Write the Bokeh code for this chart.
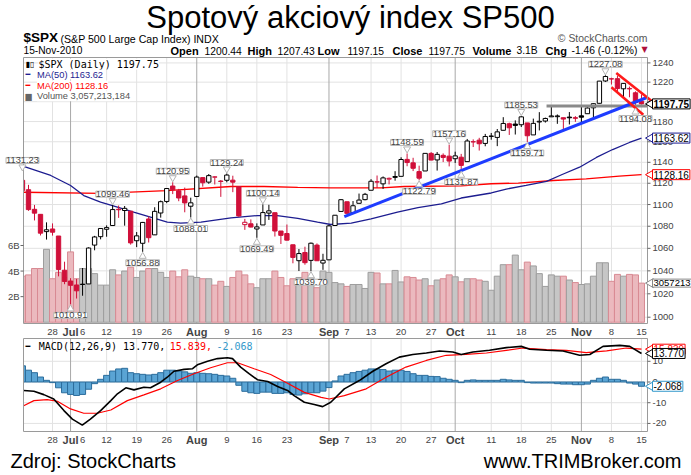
import math
from bokeh.plotting import figure
from bokeh.models import Range1d, ColumnDataSource, Label, LabelSet, LinearScale, LogScale
from bokeh.embed import file_html
from bokeh.resources import INLINE
from bokeh.core.properties import value

# ---------------- data (trading days 21-Jun-2010 .. 15-Nov-2010) ----------------
opens = [1122.79, 1113.90, 1095.57, 1090.93, 1075.10, 1077.50, 1071.10, 1040.56, 1031.10, 1027.65,
         1028.09, 1028.54, 1062.92, 1070.50, 1077.23, 1080.65, 1095.61, 1094.46, 1093.85, 1066.85,
         1064.53, 1086.67, 1072.14, 1092.17, 1102.89, 1117.36, 1112.84, 1108.07, 1098.44, 1107.53,
         1125.34, 1121.06, 1125.78, 1122.07, 1122.80, 1122.92, 1116.89, 1081.48, 1082.22, 1077.49,
         1081.16, 1092.08, 1092.44, 1075.63, 1073.36, 1063.20, 1048.98, 1056.28, 1049.27, 1062.90,
         1046.88, 1049.72, 1080.66, 1093.61, 1102.60, 1092.36, 1101.15, 1104.57, 1113.38, 1121.16,
         1119.43, 1123.89, 1126.39, 1126.57, 1142.82, 1139.49, 1131.10, 1131.69, 1148.64, 1142.31,
         1146.75, 1145.97, 1143.49, 1144.96, 1140.68, 1159.81, 1161.57, 1158.36, 1165.32, 1164.28,
         1171.32, 1177.82, 1177.47, 1176.83, 1178.64, 1166.74, 1179.56, 1180.52, 1184.74, 1184.88,
         1183.84, 1184.47, 1183.87, 1185.71, 1187.86, 1193.79, 1198.34, 1221.20, 1223.24, 1223.59,
         1213.14, 1213.04, 1209.07, 1200.44]
highs = [1131.23, 1118.50, 1099.64, 1090.93, 1083.56, 1082.60, 1071.10, 1048.08, 1033.58, 1032.95,
         1042.50, 1060.89, 1071.25, 1078.16, 1080.78, 1099.46, 1099.08, 1098.66, 1093.85, 1074.70,
         1083.94, 1088.96, 1097.50, 1103.73, 1115.01, 1120.95, 1114.66, 1115.90, 1106.44, 1127.30,
         1125.44, 1128.75, 1126.56, 1123.06, 1129.24, 1127.16, 1116.89, 1086.72, 1086.25, 1082.62,
         1100.14, 1099.77, 1092.44, 1075.63, 1081.58, 1063.20, 1059.38, 1061.45, 1065.21, 1064.40,
         1055.14, 1081.30, 1090.10, 1105.10, 1102.60, 1103.26, 1110.27, 1110.88, 1123.87, 1127.36,
         1126.46, 1125.44, 1131.47, 1144.86, 1148.59, 1144.38, 1136.77, 1148.90, 1149.92, 1150.00,
         1148.63, 1157.16, 1150.30, 1148.16, 1162.76, 1162.33, 1163.87, 1167.73, 1168.68, 1172.58,
         1184.38, 1178.89, 1181.20, 1185.53, 1178.64, 1182.94, 1189.43, 1183.93, 1196.14, 1187.11,
         1183.84, 1189.53, 1185.46, 1195.81, 1195.88, 1198.30, 1221.25, 1227.08, 1224.57, 1226.84,
         1218.75, 1215.45, 1210.50, 1207.43]
lows = [1108.24, 1094.18, 1085.31, 1071.60, 1067.89, 1071.45, 1035.18, 1028.33, 1010.91, 1015.93,
        1018.35, 1028.54, 1058.24, 1068.10, 1070.45, 1080.65, 1087.68, 1080.53, 1063.32, 1061.11,
        1056.88, 1065.25, 1072.14, 1087.88, 1101.30, 1109.78, 1103.11, 1092.82, 1088.01, 1107.53,
        1116.76, 1119.46, 1118.81, 1107.17, 1120.91, 1111.58, 1088.55, 1076.69, 1079.00, 1069.49,
        1081.16, 1085.76, 1070.66, 1063.91, 1067.08, 1046.68, 1039.83, 1045.40, 1039.70, 1048.79,
        1040.88, 1049.72, 1080.39, 1093.61, 1091.15, 1092.36, 1101.15, 1103.92, 1113.38, 1115.58,
        1114.63, 1118.88, 1122.43, 1126.57, 1136.22, 1131.58, 1122.79, 1131.69, 1142.00, 1132.09,
        1140.26, 1136.08, 1139.42, 1131.87, 1140.68, 1154.85, 1151.41, 1155.58, 1162.02, 1155.71,
        1171.32, 1166.71, 1167.12, 1174.55, 1159.71, 1166.74, 1171.17, 1178.99, 1184.74, 1177.72,
        1171.70, 1177.10, 1179.70, 1177.65, 1187.86, 1183.56, 1198.34, 1220.29, 1217.55, 1208.94,
        1204.33, 1204.49, 1194.08, 1197.15]
closes = [1113.20, 1095.31, 1092.04, 1073.69, 1076.76, 1074.57, 1041.24, 1030.71, 1027.37, 1022.58,
          1028.06, 1060.27, 1070.25, 1077.96, 1078.75, 1095.34, 1095.17, 1096.48, 1064.88, 1071.25,
          1083.48, 1069.59, 1093.67, 1102.66, 1115.01, 1113.84, 1106.13, 1101.53, 1101.60, 1125.86,
          1120.46, 1127.24, 1125.81, 1121.64, 1127.79, 1121.06, 1089.47, 1083.61, 1079.25, 1079.38,
          1092.54, 1094.16, 1075.63, 1071.69, 1067.36, 1051.87, 1055.33, 1047.22, 1064.59, 1048.92,
          1049.33, 1080.29, 1090.10, 1104.51, 1091.84, 1098.87, 1104.18, 1109.55, 1121.90, 1121.10,
          1125.07, 1124.66, 1125.59, 1142.71, 1139.78, 1134.28, 1124.83, 1148.67, 1142.16, 1147.70,
          1144.73, 1141.20, 1146.24, 1137.03, 1160.75, 1159.97, 1158.06, 1165.15, 1165.32, 1169.77,
          1178.10, 1173.81, 1176.19, 1184.71, 1165.90, 1178.17, 1180.26, 1183.08, 1185.62, 1185.64,
          1182.45, 1183.78, 1183.26, 1184.38, 1193.57, 1197.96, 1221.06, 1225.85, 1223.25, 1213.40,
          1218.71, 1213.54, 1199.21, 1197.75]
prev_close0 = 1117.51

volume_b = [3.6, 3.7, 4.2, 4.2, 5.7, 3.4, 3.9, 3.5, 5.5, 3.4,
            4.2, 4.2, 3.8, 2.9, 2.9, 4.1, 3.7, 4.0, 4.3, 3.5,
            4.0, 4.2, 4.2, 3.9, 3.5, 4.0, 3.55, 4.1, 3.6, 3.5,
            3.4, 3.4, 2.9, 3.2, 2.8, 3.5, 4.0, 3.7, 3.0, 2.7,
            3.4, 3.4, 4.0, 3.5, 2.85, 3.4, 3.5, 3.9, 3.5, 2.7,
            4.0, 3.9, 3.1, 3.0, 2.8, 2.95, 2.95, 2.64, 3.9, 3.85,
            3.0, 3.0, 4.05, 3.15, 3.55, 3.5, 3.3, 3.4, 2.85, 3.3,
            3.4, 3.7, 3.55, 3.16, 3.4, 3.4, 3.3, 3.2, 2.5, 3.6,
            4.5, 4.5, 5.25, 4.1, 4.7, 4.4, 3.8, 2.8, 3.7, 3.6,
            3.6, 3.3, 3.1, 2.95, 3.0, 3.6, 4.65, 4.65, 3.2, 3.74,
            3.6, 3.74, 3.7, 3.057]
volume_last = 3057213184

ma50_x = [0.2, 4.7, 8, 10.2, 13, 15.8, 18.5, 21.3, 24.1, 26.3, 29.7, 34.7, 39.1, 42.4, 45.8, 49.1,
          51.3, 54.7, 58, 62.4, 65.8, 69.7, 73, 78, 80.5, 83.8, 87.2, 89.8, 92.7, 95.5, 98.2, 101, 103]
ma50_y = [1136.0, 1127.4, 1117.9, 1108.4, 1102.2, 1097.5, 1092.9, 1088.3, 1083.7, 1082.8, 1083.7,
          1087.7, 1089.8, 1089.8, 1087.3, 1083.7, 1081.6, 1082.8, 1086.8, 1092.9, 1097.2, 1100.7,
          1106.1, 1110.8, 1114.5, 1117.9, 1121.7, 1128.3, 1135.3, 1144.7, 1152.4, 1159.3, 1163.62]
ma200_x = [0.2, 13, 24, 34.7, 40.2, 45.8, 51.3, 59.7, 63.5, 73, 78, 82.5, 88.3, 93.8, 99.3, 103]
ma200_y = [1111.5, 1110.5, 1113.1, 1116.9, 1116.9, 1116.1, 1115.6, 1115.6, 1116.9, 1117.6, 1119.5,
           1120.2, 1122.6, 1124.2, 1126.7, 1128.16]

macd_x = [0.2, 1.9, 3.55, 5.2, 6.9, 8.3, 9.95, 11.3, 13, 14.7, 15.8, 17.2, 18.55, 20.2, 21.3, 23,
          24.1, 25.2, 26.9, 28.3, 29.1, 30.8, 32.45, 34.1, 34.95, 36.3, 37.7, 39.1, 40.8, 42.45,
          44.1, 45.2, 46.9, 48.55, 49.95, 51.3, 53.55, 56.05, 58.3, 60.5, 62.7, 64.95, 67.2, 69.4,
          71.6, 73, 74.95, 77.7, 80.5, 83, 84.4, 87.2, 89.95, 92.7, 94.4, 96.6, 99.4, 101.05, 103]
macd_y = [-4.1, -4.5, -6.1, -8.2, -13.8, -17.9, -20.8, -17.9, -13.8, -9.0, -5.7, -2.8, -3.8, -2.5,
          -2.8, -0.1, 2.3, 5.2, 6.1, 6.4, 8.3, 10.0, 11.3, 11.7, 11.3, 7.2, 4.0, 1.1, 0.2, -2.2,
          -4.1, -6.6, -9.8, -10.9, -11.9, -9.8, -3.3, 0.7, 5.2, 8.8, 12.0, 13.3, 14.0, 15.0,
          14.5, 13.3, 14.5, 15.3, 16.6, 17.2, 15.8, 15.3, 15.0, 12.9, 13.3, 17.2, 17.7, 17.2, 13.770]
signal_x = [0.2, 1.9, 4.1, 5.8, 8, 10.2, 12.45, 14.7, 17.45, 20.2, 23, 25.8, 28.55, 31.3, 34.1, 35.8,
            38.55, 41.3, 44.1, 46.9, 49.7, 51.05, 53.55, 57.2, 60.5, 63.8, 67.2, 70.5, 73.8, 77.2,
            80.5, 83.3, 87.2, 90.5, 93.8, 97.2, 100.5, 103]
signal_y = [-11.5, -9.0, -8.5, -9.3, -13.0, -15.1, -15.1, -13.5, -9.0, -6.2, -3.3, 0.7, 4.0, 6.9,
            9.3, 9.3, 6.4, 3.6, -0.6, -5.0, -7.4, -8.2, -6.6, -3.3, 2.3, 7.2, 10.4, 12.9, 13.3,
            14.0, 15.3, 16.4, 15.6, 15.3, 14.2, 15.0, 16.4, 15.839]
hist = [7.8, 5.7, 4.5, 2.4, 0.8, -0.3, -2.8, -5.2, -6.0, -6.5,
        -6.0, -3.5, -0.8, 1.3, 3.2, 5.3, 6.3, 6.6, 4.5, 4.0,
        3.7, 3.4, 3.7, 4.5, 5.7, 5.7, 5.3, 4.9, 4.2, 4.5,
        4.2, 4.0, 3.7, 3.2, 2.9, 1.8, -1.6, -4.5, -5.2, -5.5,
        -4.9, -4.9, -5.5, -5.5, -5.2, -6.0, -6.3, -5.7, -5.2, -5.2,
        -4.4, -2.7, 0.5, 2.9, 3.7, 4.5, 5.1, 5.7, 6.3, 6.3,
        6.0, 5.3, 5.7, 5.7, 5.1, 4.0, 3.2, 3.2, 2.7, 2.6,
        1.8, 1.3, 0.8, -0.3, 0.8, 1.0, 0.8, 0.8, 0.8, 0.8,
        1.3, 1.0, 0.8, 0.8, -0.3, -0.5, -0.5, -0.5, -0.5, -0.8,
        -1.0, -1.0, -1.3, -1.3, -1.0, 0.8, 1.8, 2.4, 1.3, 1.3,
        0.8, -0.5, -1.0, -2.068]

# annotation lines drawn on the chart
trend_x = [53.55, 103.8]
trend_y = [1088.9, 1204.0]
chan_up_x = [98.8, 104.8]
chan_up_y = [1229.5, 1200.2]
chan_lo_x = [98.0, 103.3]
chan_lo_y = [1214.7, 1186.9]
resist_x = [87.2, 104.0]
resist_y = [1195.6, 1195.6]

hi_idx = [0, 15, 25, 34, 40, 64, 71, 83, 97]
lo_idx = [8, 20, 28, 39, 48, 66, 73, 84, 102]

price_ticks = [1000, 1020, 1040, 1060, 1080, 1100, 1120, 1140, 1160, 1180, 1200, 1220, 1240]
vol_ticks = [2, 4, 6]
macd_ticks = [-20, -10, 0, 10]
week_grid = [5, 14, 19, 24, 34, 39, 44, 58, 63, 68, 78, 83, 88, 98, 103]
month_grid = [8, 29, 51, 72, 93]
day_tick_idx = [5, 10, 14, 19, 24, 34, 39, 44, 54, 58, 63, 68, 78, 83, 88, 98, 103]
day_tick_txt = ["28", "6", "12", "19", "26", "9", "16", "23", "7", "13", "20", "27", "11", "18",
                "25", "8", "15"]
month_tick_idx = [8, 29, 51, 72, 93]
month_tick_txt = ["Jul", "Aug", "Sep", "Oct", "Nov"]

# ---------------- layout (pixels) ----------------
W, H = 691, 475
PL, PR = 23, 647            # panel left / right edge
MT, MB = 57, 323            # price panel top / bottom
CT, CB = 338, 431           # MACD panel top / bottom
X0, X1 = 0.17, 104.0
Y0, Y1 = 994.7, 1245.7
V0, V1 = -0.1, 20.7
M0, M1 = -23.9, 21.0

PXX = (PR - PL) / (X1 - X0)
LNPX = (MB - MT) / math.log(Y1 / Y0)
VPX = (MB - MT) / (V1 - V0)
MPX = (CB - CT) / (M1 - M0)
XA, XB = X0 - PL / PXX, X1 + (W - PR) / PXX
PT, PB = Y1 * math.exp(MT / LNPX), Y0 * math.exp(-(H - MB) / LNPX)
VT, VB = V1 + MT / VPX, V0 - (H - MB) / VPX
MTOP, MBOT = M1 + CT / MPX, M0 - (H - CB) / MPX

RED = "#d0103a"
SANS = "Liberation Sans"
MONO = "DejaVu Sans Mono"
GRID = "#e2e2e2"
MGRID = "#a8a8a8"
BORDER = "#9a9a9a"

p = figure(width=W, height=H, x_range=Range1d(XA, XB), y_range=Range1d(H, 0),
           x_axis_location=None, y_axis_location=None, output_backend="svg",
           toolbar_location=None, min_border=0, outline_line_color=None)
p.grid.visible = False
p.extra_x_ranges = {"px": Range1d(0, W)}
p.extra_y_ranges = {"price": Range1d(PB, PT), "vol": Range1d(VB, VT), "macd": Range1d(MBOT, MTOP)}
p.extra_y_scales = {"price": LogScale(), "vol": LinearScale(), "macd": LinearScale()}


def ptext(x, y, s, size, bold=False, color="black", align="left", font=SANS):
    p.text(x=[x], y=[y], text=[s], x_range_name="px", text_font=value(font),
           text_font_size=size, text_font_style="bold" if bold else "normal",
           text_color=color, text_align=align, text_baseline="middle")


# ---------------- header ----------------
ptext(350, 17, "Spotový akciový index SP500", "31px", align="center")
ptext(23, 37, "$SPX", "13.5px", bold=True)
ptext(60, 38, "(S&P 500 Large Cap Index) INDX", "10.6px")
ptext(647, 38, "© StockCharts.com", "10.4px", color="#555555", align="right")
ptext(23, 50, "15-Nov-2010", "10.2px")
quote = [(170, "Open", True), (204, "%.2f" % opens[-1], False), (247, "High", True),
         (277, "%.2f" % highs[-1], False), (317, "Low", True), (347, "%.2f" % lows[-1], False),
         (392, "Close", True), (428, "%.2f" % closes[-1], False), (472, "Volume", True),
         (516, "%.1fB" % volume_b[-1], False), (545, "Chg", True),
         (571, "%.2f (%.2f%%)" % (closes[-1] - closes[-2], (closes[-1] / closes[-2] - 1) * 100), False)]
for qx, qs, qb in quote:
    ptext(qx, 50, qs, "11px" if qb else "10.3px", bold=qb)
ptext(641, 49, "▼", "8px", color="#b0103a", font="DejaVu Sans")

# ---------------- grids and panel frames ----------------
for rn, lo, hi, yt in (("price", Y0, Y1, price_ticks), ("macd", M0, M1, macd_ticks)):
    p.segment(x0=[X0] * len(yt), x1=[X1] * len(yt), y0=yt, y1=yt, y_range_name=rn,
              line_color=GRID, line_width=1)
    for ticks, gc in ((week_grid, GRID), (month_grid, MGRID)):
        p.segment(x0=ticks, x1=ticks, y0=[lo] * len(ticks), y1=[hi] * len(ticks),
                  y_range_name=rn, line_color=gc, line_width=1)

# ---------------- price panel marks ----------------
idx = list(range(len(closes)))
prev = [prev_close0] + closes[:-1]
col = [RED if c < pc else "black" for c, pc in zip(closes, prev)]
fill = ["white" if c > o else k for o, c, k in zip(opens, closes, col)]
bot = [min(o, c) for o, c in zip(opens, closes)]
top = [max(o, c, min(o, c) + 0.3) for o, c in zip(opens, closes)]
src = ColumnDataSource(dict(
    x=idx, h=highs, l=lows, top=top, bot=bot, col=col, fill=fill,
    bl=[max(i - 0.36, X0) for i in idx], br=[i + 0.36 for i in idx],
    vl=[max(i - 0.5, X0) for i in idx], vr=[min(i + 0.5, X1) for i in idx],
    vol=volume_b, hist=hist,
    vfill=["#ebb9be" if c < pc else "#c6c6c6" for c, pc in zip(closes, prev)],
    vline=["#d88a93" if c < pc else "#9d9d9d" for c, pc in zip(closes, prev)]))
wick = ColumnDataSource(dict(x=[i for i in idx if i >= X0], h=[highs[i] for i in idx if i >= X0],
                             l=[lows[i] for i in idx if i >= X0], col=[col[i] for i in idx if i >= X0]))

p.quad(left="vl", right="vr", top="vol", bottom=0, y_range_name="vol", fill_color="vfill",
       line_color="vline", line_width=1, source=src)
p.line(ma200_x, ma200_y, y_range_name="price", line_color="#ff0000", line_width=1.3)
p.line(ma50_x, ma50_y, y_range_name="price", line_color="#1d1d90", line_width=1.3)
p.segment(x0="x", y0="l", x1="x", y1="h", y_range_name="price", line_color="col",
          line_width=1, source=wick)
p.quad(left="bl", right="br", top="top", bottom="bot", y_range_name="price", fill_color="fill",
       line_color="col", line_width=1, source=src)
p.line(resist_x, resist_y, y_range_name="price", line_color="#8a8a8a", line_width=3)
p.line(trend_x, trend_y, y_range_name="price", line_color="#1e3cff", line_width=3)
p.line(chan_up_x, chan_up_y, y_range_name="price", line_color="#ff1a1a", line_width=2.6)
p.line(chan_lo_x, chan_lo_y, y_range_name="price", line_color="#ff1a1a", line_width=2.6)

# ---------------- MACD panel marks ----------------
p.quad(left="vl", right="vr", top="hist", bottom=0, y_range_name="macd", fill_color="#5aa4d4",
       line_color="#2c6d9c", line_width=1, source=src)
p.line(signal_x, signal_y, y_range_name="macd", line_color="#ff0000", line_width=1.2)
p.line(macd_x, macd_y, y_range_name="macd", line_color="black", line_width=1.6)

# panel outlines
for rn, lo, hi in (("price", Y0, Y1), ("macd", M0, M1)):
    p.quad(left=[X0], right=[X1], bottom=[lo], top=[hi], y_range_name=rn, fill_color=None,
           line_color=BORDER, line_width=1)

# ---------------- axes (ticks + labels) ----------------
tick_len = 3 / PXX
for rn, yt, fmt in (("price", price_ticks, "%d"), ("macd", macd_ticks, "%d")):
    p.segment(x0=[X1] * len(yt), x1=[X1 + tick_len] * len(yt), y0=yt, y1=yt, y_range_name=rn,
              line_color="#666666")
    s = ColumnDataSource(dict(x=[X1] * len(yt), y=yt, t=[fmt % v for v in yt]))
    p.add_layout(LabelSet(x="x", y="y", text="t", source=s, y_range_name=rn, x_offset=5,
                          text_baseline="middle", text_font=value(SANS), text_font_size="9.5px"))
p.segment(x0=[X0 - tick_len] * 3, x1=[X0] * 3, y0=vol_ticks, y1=vol_ticks, y_range_name="vol",
          line_color="#666666")
vs = ColumnDataSource(dict(x=[X0] * 3, y=vol_ticks, t=["%dB" % v for v in vol_ticks]))
p.add_layout(LabelSet(x="x", y="y", text="t", source=vs, y_range_name="vol", x_offset=-4,
                      text_align="right", text_baseline="middle", text_font=value(SANS),
                      text_font_size="9.5px"))

for ypix in (MB + 8, CB + 8):
    ds = ColumnDataSource(dict(x=day_tick_idx, y=[ypix] * len(day_tick_idx), t=day_tick_txt))
    ms = ColumnDataSource(dict(x=month_tick_idx, y=[ypix] * len(month_tick_idx), t=month_tick_txt))
    p.add_layout(LabelSet(x="x", y="y", text="t", source=ds, text_align="center",
                          text_baseline="middle", text_font=value(SANS), text_font_size="9.5px"))
    p.add_layout(LabelSet(x="x", y="y", text="t", source=ms, text_align="center",
                          text_baseline="middle", text_font=value(SANS), text_font_size="11px",
                          text_font_style="bold"))

# ---------------- high / low callouts (box + small pointer) ----------------
for ids, arr, off, mk in ((hi_idx, highs, 11, "inverted_triangle"), (lo_idx, lows, -11, "triangle")):
    py = [arr[i] * math.exp((4.5 if off > 0 else -4.5) / LNPX) for i in ids]
    p.scatter(x=ids, y=py, y_range_name="price", marker=mk, size=7, fill_color="white",
              line_color="#b5b5b5")
    s = ColumnDataSource(dict(x=ids, y=[arr[i] for i in ids], t=["%.2f" % arr[i] for i in ids]))
    p.add_layout(LabelSet(x="x", y="y", text="t", source=s, y_range_name="price", y_offset=off,
                          text_align="center", text_baseline="middle", text_font=value(SANS),
                          text_font_size="9.3px", background_fill_color="white",
                          border_line_color="#b5b5b5"))

# ---------------- legends ----------------
legend_rows = [
    ("▮▯", "black", "$SPX (Daily) %.2f" % closes[-1], "black", MONO, "10px", 63.5, 38),
    ("━", "#1d1d90", "MA(50) %.2f" % ma50_y[-1], "#1d1d90", SANS, "9.3px", 74, 36.5),
    ("━", "#ff0000", "MA(200) %.2f" % ma200_y[-1], "#ff0000", SANS, "9.3px", 85, 36.5),
    ("▆", "#666666", "Volume {:,}".format(volume_last), "#555555", SANS, "9.3px", 95.7, 36.5),
]
for icon, icol, txt, tcol, fnt, fsz, ly, lx in legend_rows:
    p.add_layout(Label(x=lx, y=ly, x_range_name="px", text=txt, text_color=tcol,
                       text_font=fnt, text_font_size=fsz, text_baseline="middle",
                       background_fill_color="white"))
    p.add_layout(Label(x=25, y=ly, x_range_name="px", text=icon, text_color=icol,
                       text_font="DejaVu Sans", text_font_size="8px", text_baseline="middle"))

mac_leg = [(25, "━", "black", "DejaVu Sans", "8px"),
           (38.3, "MACD(12,26,9) %.3f," % macd_y[-1], "black", MONO, "10px"),
           (169.3, "%.3f," % signal_y[-1], "#ff0000", MONO, "10px"),
           (216, "%.3f" % hist[-1], "#3399cc", MONO, "10px")]
for lx, txt, tc, fnt, fsz in mac_leg:
    p.add_layout(Label(x=lx, y=345.7, x_range_name="px", text=txt, text_color=tc,
                       text_font=fnt, text_font_size=fsz, text_baseline="middle"))

# ---------------- right value tags (pointer + box) ----------------
tags = [(volume_last / 1e9, str(volume_last)[:7], "#888888", "normal", "vol", "9.5px"),
        (ma200_y[-1], "%.2f" % ma200_y[-1], "#ff0000", "normal", "price", "10px"),
        (ma50_y[-1], "%.2f" % ma50_y[-1], "#1d1d90", "normal", "price", "10px"),
        (closes[-1], "%.2f" % closes[-1], "black", "bold", "price", "10px"),
        (signal_y[-1], "%.3f" % signal_y[-1], "#ff0000", "normal", "macd", "10px"),
        (macd_y[-1], "%.3f" % macd_y[-1], "black", "normal", "macd", "10px"),
        (hist[-1], "%.3f" % hist[-1], "#3399cc", "normal", "macd", "10px")]
for tv, tt, tc, ts, rn, fs in tags:
    p.scatter(x=[X1 + 3.2 / PXX], y=[tv], y_range_name=rn, marker="triangle", angle=math.pi / 2,
              size=9, fill_color="white", line_color=tc)
    p.add_layout(Label(x=X1, y=tv, y_range_name=rn, x_offset=5, text=tt,
                       text_color="#ff0000" if (rn == "macd" and tc == "#ff0000") else "black",
                       text_font=SANS, text_font_size=fs, text_font_style=ts,
                       text_baseline="middle", background_fill_color="white",
                       border_line_color=tc, padding=1))

# ---------------- footer ----------------
ptext(10, 460, "Zdroj: StockCharts", "20px")
ptext(681, 460, "www.TRIMBroker.com", "20px", align="right")

open("out.html", "w").write(file_html(p, INLINE))
